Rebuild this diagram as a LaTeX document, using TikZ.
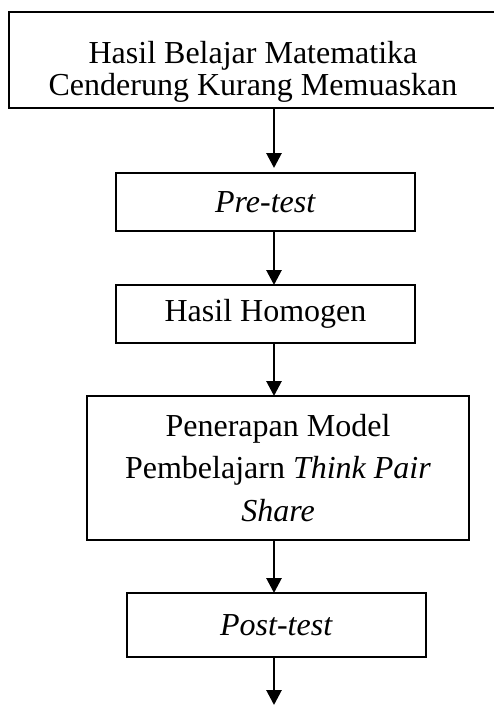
\documentclass[tikz,border=0pt]{standalone}
\usepackage{fontspec}
\setmainfont{Liberation Serif}
\usepackage{tikz}
\usetikzlibrary{positioning, arrows.meta}

\begin{document}
\begin{tikzpicture}[
    box/.style={rectangle, draw=black, line width=1.1pt, outer sep=0pt,
                inner sep=2pt, align=center,
                font=\fontsize{16pt}{21.25pt}\selectfont},
    arrow/.style={-{Triangle[width=7.5pt, length=7.5pt]}, line width=1.4pt},
  ]
    \useasboundingbox (0,0) rectangle (246.5pt,-353pt);

    % Flow boxes
    \node[box, minimum width=244pt, minimum height=48pt,
          font=\fontsize{16pt}{16pt}\selectfont] (HASIL) at (126.5pt,-30pt)
      {\rule{0pt}{22.5pt}Hasil Belajar Matematika\\Cenderung Kurang Memuaskan};
    \node[box, minimum width=149.5pt, minimum height=29pt,
          below=32.5pt of HASIL, xshift=6.25pt] (PRE) {\textit{Pre-test}};
    \node[box, minimum width=149.5pt, minimum height=29pt,
          below=27pt of PRE] (HOMO) {Hasil Homogen};
    \node[box, minimum width=191pt, minimum height=72pt,
          below=26.5pt of HOMO, xshift=6.25pt] (TPS)
      {Penerapan Model\\Pembelajarn \textit{Think Pair}\\\textit{Share}};
    \node[box, minimum width=149.5pt, minimum height=32pt,
          below=26.5pt of TPS, xshift=-0.75pt] (POST) {\textit{Post-test}};

    % Arrows on one vertical line
    \coordinate (SPINE) at (137pt,0);
    \coordinate (END) at (137pt,-352.5pt);
    \draw[arrow, shorten >=2.5pt] (HASIL.south -| SPINE) -- (PRE.north -| SPINE);
    \draw[arrow] (PRE.south -| SPINE) -- (HOMO.north -| SPINE);
    \draw[arrow] (HOMO.south -| SPINE) -- (TPS.north -| SPINE);
    \draw[arrow] (TPS.south -| SPINE) -- (POST.north -| SPINE);
    \draw[arrow] (POST.south -| SPINE) -- (END);
  \end{tikzpicture}
\end{document}
